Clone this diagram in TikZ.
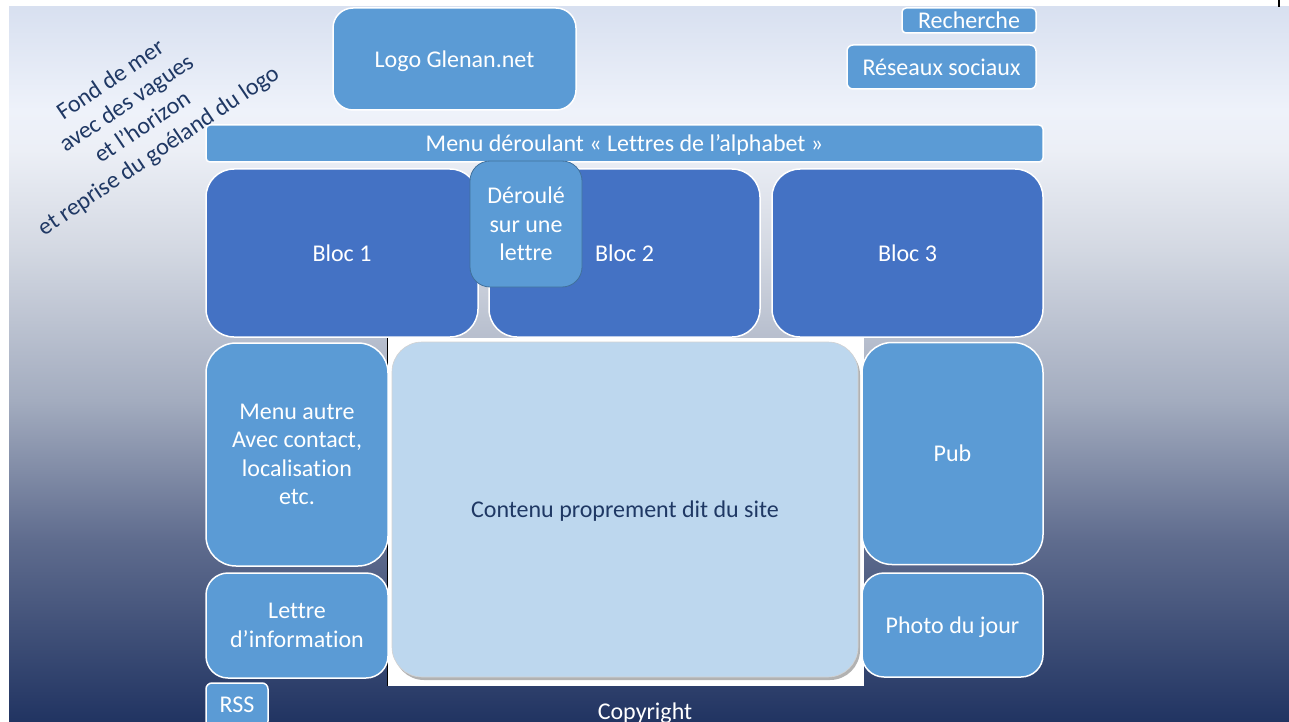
\documentclass[tikz,border=0pt]{standalone}
\usepackage{fontspec}
\setmainfont{Carlito}[Ligatures=NoCommon]
\usetikzlibrary{shadows}
\definecolor{bgT}{HTML}{D8E0F0}
\definecolor{bgA}{HTML}{EEF2FA}
\definecolor{bgA2}{HTML}{ECEFF6}
\definecolor{bgB}{HTML}{D3D8E2}
\definecolor{bgC}{HTML}{A3ACBF}
\definecolor{bgD}{HTML}{5F6C8E}
\definecolor{bgE}{HTML}{213462}
\definecolor{lightblue}{HTML}{5B9BD5}
\definecolor{darkblue}{HTML}{4472C4}
\definecolor{paleblue}{HTML}{BDD7EE}
\definecolor{navy}{HTML}{1F3864}
\definecolor{edgeblue}{HTML}{41719C}
\pgfdeclareverticalshading{sea}{100bp}{color(0bp)=(bgE); color(25bp)=(bgE); color(37.7bp)=(bgD); color(47.5bp)=(bgC); color(58bp)=(bgB); color(65bp)=(bgA2); color(67.8bp)=(bgA); color(75bp)=(bgT); color(100bp)=(bgT)}
\tikzset{
  txt/.style={font=\fontsize{24}{28.5}\selectfont, align=center},
  box/.style={txt, draw=white, line width=1.5pt, text=white, inner sep=0pt, rectangle},
  lbox/.style={box, fill=lightblue, text depth=0pt},
  dbox/.style={box, fill=darkblue},
}
\begin{document}
\begin{tikzpicture}[x=1pt,y=-1pt]
\useasboundingbox (0,0) rectangle (1289,722);
\fill[white] (0,0) rectangle (1289,722);
\fill[shading=sea] (9,7) rectangle (1289,722);
\draw[black, line width=1.5pt] (1279,0) -- (1279,7);
% rotated note
\node[txt, text=navy, rotate=34] (note) at (135,116) {Fond de mer\\avec des vagues\\et l’horizon\\et reprise du goéland du logo};
% top
\node[lbox, rounded corners=20pt, minimum width=243pt, minimum height=102pt] (logo) at (454.5,59) {Logo Glenan.net};
\node[lbox, rounded corners=4pt, minimum width=134pt, minimum height=25pt] (rech) at (969,20.5) {Recherche};
\node[lbox, rounded corners=6pt, minimum width=189pt, minimum height=44pt] (res) at (941.5,67) {Réseaux sociaux};
\node[lbox, rounded corners=4pt, minimum width=837pt, minimum height=37pt] (menu) at (624.5,143.5) {Menu déroulant « Lettres de l’alphabet »};
% blocs
\node[dbox, rounded corners=28pt, minimum width=272pt, minimum height=168pt] (b1) at (342,253) {Bloc 1};
\node[dbox, rounded corners=28pt, minimum width=271pt, minimum height=168pt] (b2) at (624.5,253) {Bloc 2};
\node[dbox, rounded corners=28pt, minimum width=271pt, minimum height=168pt] (b3) at (907.5,253) {Bloc 3};
\node[lbox, draw=edgeblue, line width=0.8pt, rounded corners=20pt, minimum width=112pt, minimum height=126pt] (der) at (526,224) {Déroulé\\sur une\\lettre};
% content area
\fill[white] (387,338) rectangle (864,686);
\draw[black, line width=1pt] (387,338) -- (387,686);
\node[txt, fill=paleblue, draw=gray!35, line width=0.6pt, text=navy, text depth=0pt, rounded corners=30pt, minimum width=466pt, minimum height=335pt, inner sep=0pt, drop shadow={shadow xshift=2pt, shadow yshift=-3pt, fill=gray!75, opacity=0.8}] (cont) at (625,509.5) {Contenu proprement dit du site};
% left column
\node[lbox, rounded corners=30pt, minimum width=182pt, minimum height=223pt] (autre) at (297,454.5) {Menu autre\\Avec contact,\\localisation\\etc.};
\node[lbox, rounded corners=22pt, minimum width=182pt, minimum height=105pt] (lettre) at (297,625.5) {Lettre\\d’information};
\node[lbox, rounded corners=6pt, minimum width=62pt, minimum height=44pt] (rss) at (237,705) {RSS};
% right column
\node[lbox, rounded corners=30pt, minimum width=181pt, minimum height=222pt] (pub) at (952.5,453.5) {Pub};
\node[lbox, rounded corners=22pt, minimum width=181pt, minimum height=104pt] (photo) at (952.5,625) {Photo du jour};
% footer
\node[txt, text=white, text depth=0pt] (copy) at (645,711) {Copyright};
\end{tikzpicture}
\end{document}
